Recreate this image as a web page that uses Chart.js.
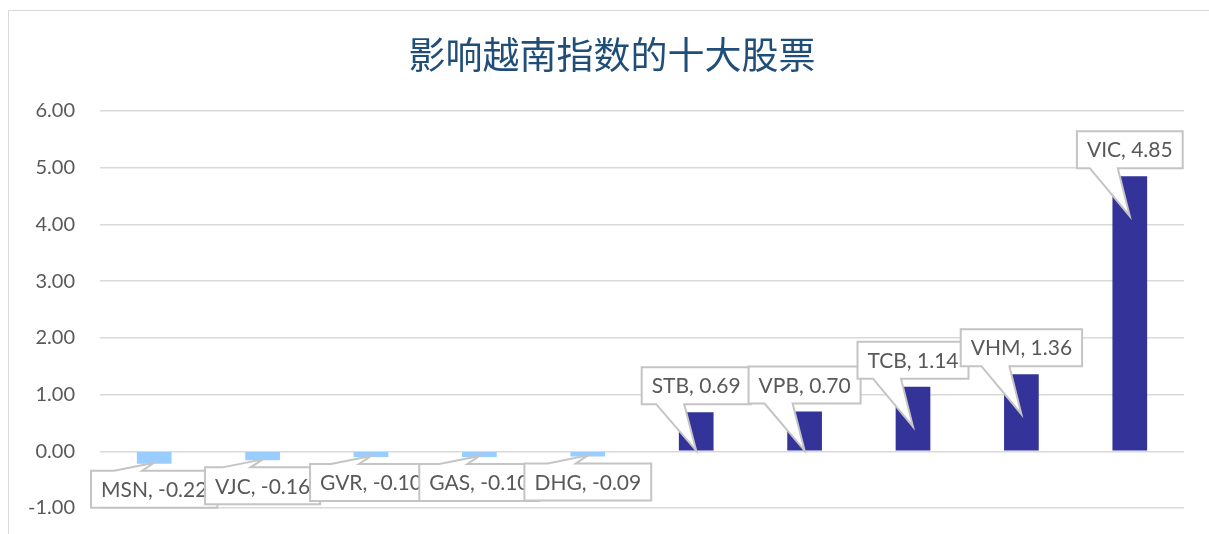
<!DOCTYPE html>
<html>
<head>
<meta charset="utf-8">
<script src="https://cdn.jsdelivr.net/npm/chart.js@4"></script>
<style>
  html, body { margin: 0; padding: 0; background: #fff; overflow: hidden; }
  #frame { position: absolute; left: 8px; top: 10px; width: 1220px; height: 540px; border: 1px solid #d9d9d9; }
  #chart { position: absolute; left: 0; top: 0; }
</style>
</head>
<body>
<div id="frame"></div>
<canvas id="chart" width="1209" height="534"></canvas>
<script>
// 数据
const stocks = ["MSN", "VJC", "GVR", "GAS", "DHG", "STB", "VPB", "TCB", "VHM", "VIC"];
const impact = [-0.22, -0.16, -0.10, -0.10, -0.09, 0.69, 0.70, 1.14, 1.36, 4.85];
const yTicks = [-1, 0, 1, 2, 3, 4, 5, 6];
const chartTitle = "影响越南指数的十大股票";

const NEG_COLOR = "#99CCFF";
const POS_COLOR = "#333399";
const LABEL_FONT = "21px Lato, 'Liberation Sans', sans-serif";

// 标题
const titlePlugin = {
    id: "titleText",
    afterDraw(chart) {
        const ctx = chart.ctx;
        ctx.save();
        ctx.font = "37px 'Noto Sans CJK SC', sans-serif";
        ctx.fillStyle = "#1F4E79";
        ctx.textAlign = "center";
        ctx.textBaseline = "middle";
        ctx.fillText(chartTitle, 612, 55);
        ctx.restore();
    }
};

// 数据标签（带指针的标注框）
const calloutPlugin = {
    id: "callouts",
    afterDatasetsDraw(chart) {
        const ctx = chart.ctx;
        const meta = chart.getDatasetMeta(0);
        ctx.save();
        ctx.font = LABEL_FONT;
        meta.data.forEach((bar, i) => {
            const v = impact[i];
            const text = stocks[i] + ", " + v.toFixed(2);
            const w = ctx.measureText(text).width + 20;
            const h = 37;
            const cx = bar.x;
            const left = cx - w / 2;
            let top, tipY, baseY;
            if (v >= 0) {
                top = bar.y - 8 - h;
                baseY = top + h;
                tipY = Math.min(bar.y + 40, bar.base);
            } else {
                top = bar.y + 7;
                baseY = top;
                tipY = bar.y - 1;
            }
            const b1 = cx - 40, b2 = cx - 12;

            ctx.beginPath();
            if (v >= 0) {
                ctx.moveTo(left, top);
                ctx.lineTo(left + w, top);
                ctx.lineTo(left + w, top + h);
                ctx.lineTo(b2, baseY);
                ctx.lineTo(cx, tipY);
                ctx.lineTo(b1, baseY);
                ctx.lineTo(left, top + h);
            } else {
                ctx.moveTo(left, top);
                ctx.lineTo(b1, baseY);
                ctx.lineTo(cx, tipY);
                ctx.lineTo(b2, baseY);
                ctx.lineTo(left + w, top);
                ctx.lineTo(left + w, top + h);
                ctx.lineTo(left, top + h);
            }
            ctx.closePath();
            ctx.fillStyle = "#ffffff";
            ctx.fill();
            ctx.strokeStyle = "#c4c4c4";
            ctx.lineWidth = 2;
            ctx.stroke();

            ctx.fillStyle = "#595959";
            ctx.textAlign = "center";
            ctx.textBaseline = "middle";
            ctx.fillText(text, cx, top + h / 2 + 1);
        });
        ctx.restore();
    }
};

new Chart(document.getElementById("chart"), {
    type: "bar",
    data: {
        labels: stocks,
        datasets: [{
            data: impact,
            backgroundColor: impact.map(v => v < 0 ? NEG_COLOR : POS_COLOR),
            categoryPercentage: 1,
            barPercentage: 0.32,
        }],
    },
    options: {
        responsive: false,
        animation: false,
        layout: { padding: { top: 111, right: 25, bottom: 26, left: 0 } },
        plugins: { legend: { display: false }, tooltip: { enabled: false }, title: { display: false } },
        scales: {
            x: { display: false },
            y: {
                min: yTicks[0],
                max: yTicks[yTicks.length - 1],
                afterBuildTicks: (scale) => { scale.ticks = yTicks.map(v => ({ value: v })); },
                afterFit: (scale) => {
                    scale.width = 100;
                    scale.paddingTop = 12;
                    scale.paddingBottom = 12;
                },
                border: { display: false },
                grid: { color: "#d9d9d9", lineWidth: 1.5, drawTicks: false },
                ticks: {
                    padding: 25,
                    color: "#595959",
                    font: { family: "Lato, 'Liberation Sans', sans-serif", size: 20 },
                    callback: (value) => Number(value).toFixed(2),
                },
            },
        },
    },
    plugins: [titlePlugin, calloutPlugin],
});
</script>
</body>
</html>
